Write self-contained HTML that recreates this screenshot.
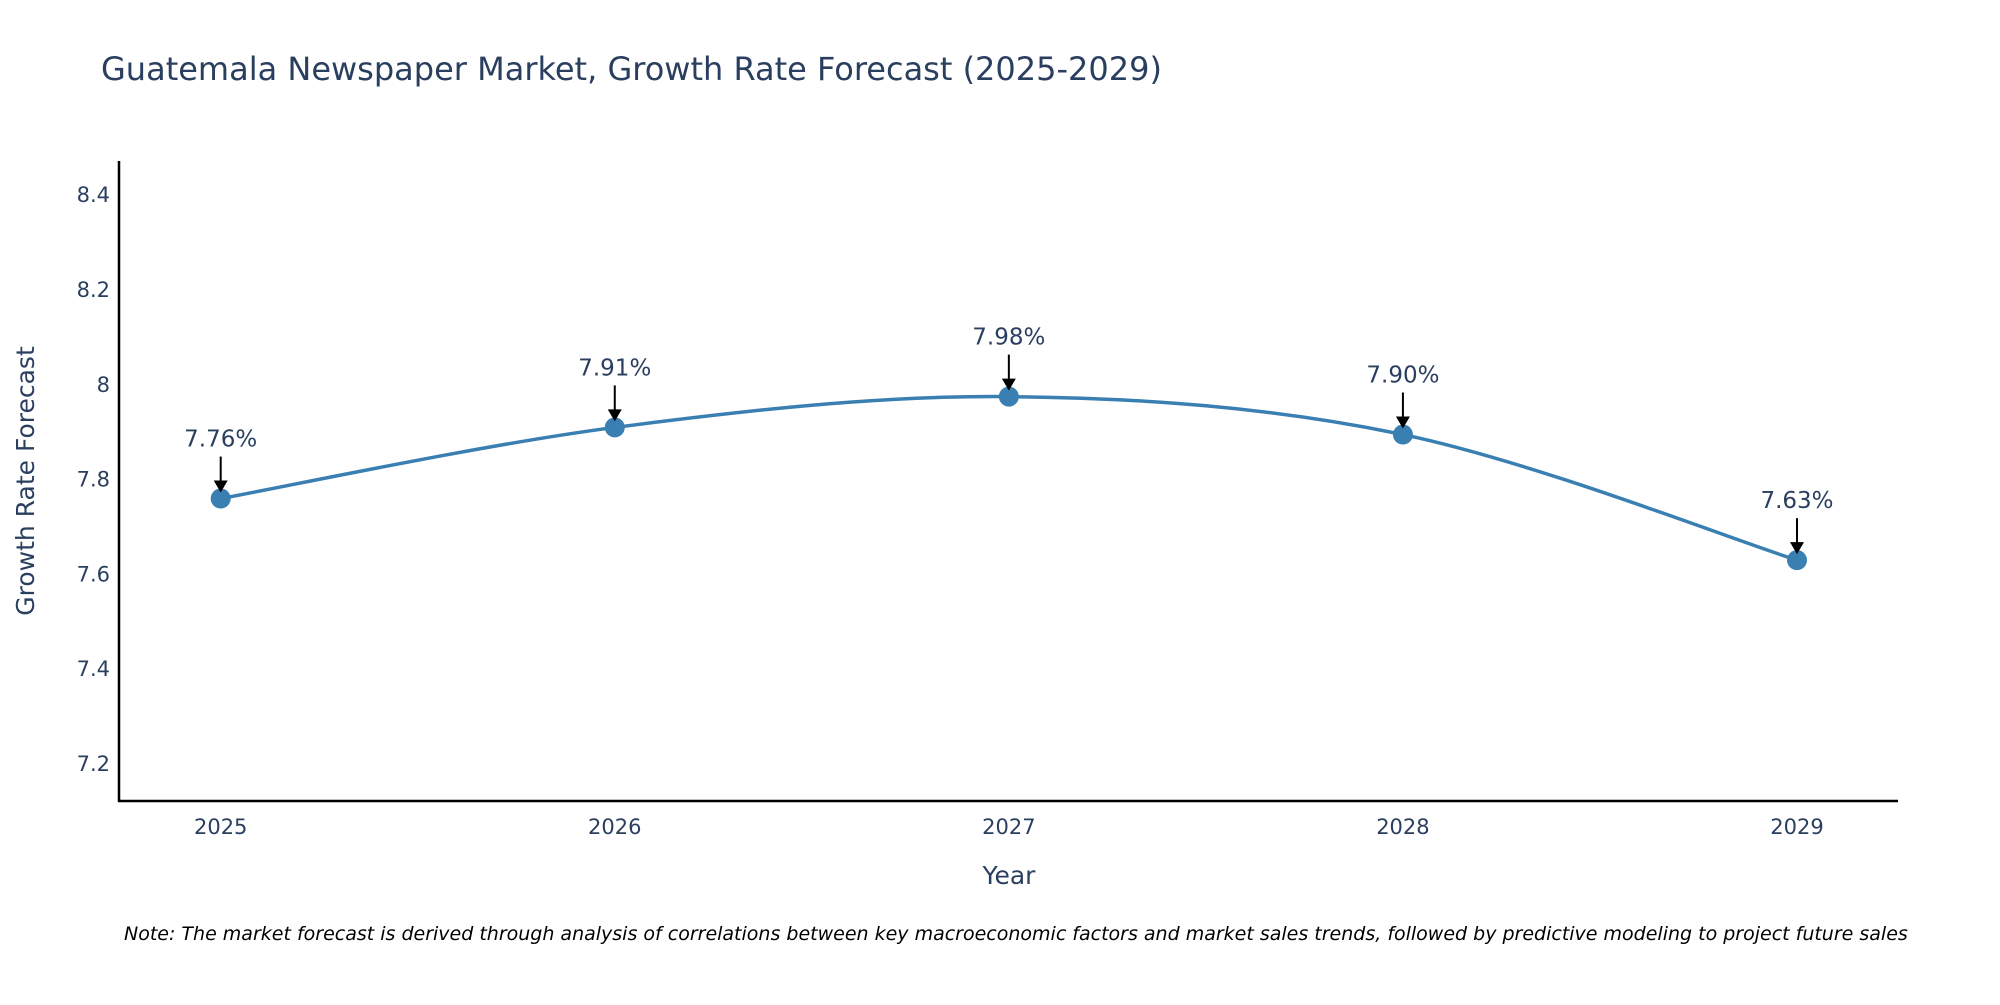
<!DOCTYPE html>
<html><head><meta charset="utf-8"><style>
body{margin:0;background:#fff;}
svg text{font-family:"DejaVu Sans","Liberation Sans",sans-serif;fill:#2a3f5f;}
</style></head><body>
<svg width="2000" height="1000" xmlns="http://www.w3.org/2000/svg">
<text x="101" y="80" font-size="32">Guatemala Newspaper Market, Growth Rate Forecast (2025-2029)</text>
<g id="yticks"></g>
<g id="xticks"></g>
<line x1="119" y1="161" x2="119" y2="802" stroke="#000" stroke-width="2.5"/>
<line x1="118" y1="801" x2="1898" y2="801" stroke="#000" stroke-width="2.5"/>
<text transform="translate(34,481) rotate(-90)" text-anchor="middle" font-size="25">Growth Rate Forecast</text>
<text x="1009" y="884" text-anchor="middle" font-size="25">Year</text>
<path id="line" fill="none" stroke="#3a7fb2" stroke-width="3.5"/>
<g id="points"></g>
<text x="124" y="940" font-size="19" font-style="italic" style="fill:#000">Note: The market forecast is derived through analysis of correlations between key macroeconomic factors and market sales trends, followed by predictive modeling to project future sales</text>
</svg>
<script>
const years = ["2025","2026","2027","2028","2029"];
const values = [7.76, 7.91, 7.975, 7.895, 7.63];
const labels = ["7.76%","7.91%","7.98%","7.90%","7.63%"];
const yTicks = [7.2,7.4,7.6,7.8,8,8.2,8.4];
const yTickLabels = ["7.2","7.4","7.6","7.8","8","8.2","8.4"];
const NS="http://www.w3.org/2000/svg";
const yMin=7.122,yMax=8.472,plotTop=161,plotBot=801;
function ys(v){return plotBot-(v-yMin)/(yMax-yMin)*(plotBot-plotTop);}
function xs(i){return 220.7+i*(1797-220.7)/(years.length-1);}
function mk(tag,attrs,parent){const e=document.createElementNS(NS,tag);for(const k in attrs)e.setAttribute(k,attrs[k]);parent.appendChild(e);return e;}
const yt=document.getElementById('yticks');
yTicks.forEach((v,i)=>{const t=mk('text',{x:110,y:ys(v)+7,'text-anchor':'end','font-size':'21'},yt);t.textContent=yTickLabels[i];

});
const xt=document.getElementById('xticks');
years.forEach((y,i)=>{const t=mk('text',{x:xs(i),y:834,'text-anchor':'middle','font-size':'21'},xt);t.textContent=y;

});
const P=values.map((v,i)=>[xs(i),ys(v)]);
let d=`M${P[0][0]},${P[0][1]}`;
for(let i=0;i<P.length-1;i++){const p0=P[i-1]||P[i],p1=P[i],p2=P[i+1],p3=P[i+2]||P[i+1];
const c1=[p1[0]+(p2[0]-p0[0])/6,p1[1]+(p2[1]-p0[1])/6],c2=[p2[0]-(p3[0]-p1[0])/6,p2[1]-(p3[1]-p1[1])/6];
d+=` C${c1[0]},${c1[1]} ${c2[0]},${c2[1]} ${p2[0]},${p2[1]}`;}
document.getElementById('line').setAttribute('d',d);
const pg=document.getElementById('points');
P.forEach((p,i)=>{
const c=mk('circle',{cx:p[0],cy:p[1],r:10,fill:'#3a7fb2'},pg);


const l=mk('line',{x1:p[0],y1:p[1]-42,x2:p[0],y2:p[1]-14,stroke:'#000','stroke-width':'2'},pg);


const h=mk('polygon',{points:`${p[0]-7},${p[1]-18} ${p[0]+7},${p[1]-18} ${p[0]},${p[1]-6}`,fill:'#000'},pg);


const t=mk('text',{x:p[0],y:p[1]-52,'text-anchor':'middle','font-size':'23'},pg);t.textContent=labels[i];


});
</script>
</body></html>
